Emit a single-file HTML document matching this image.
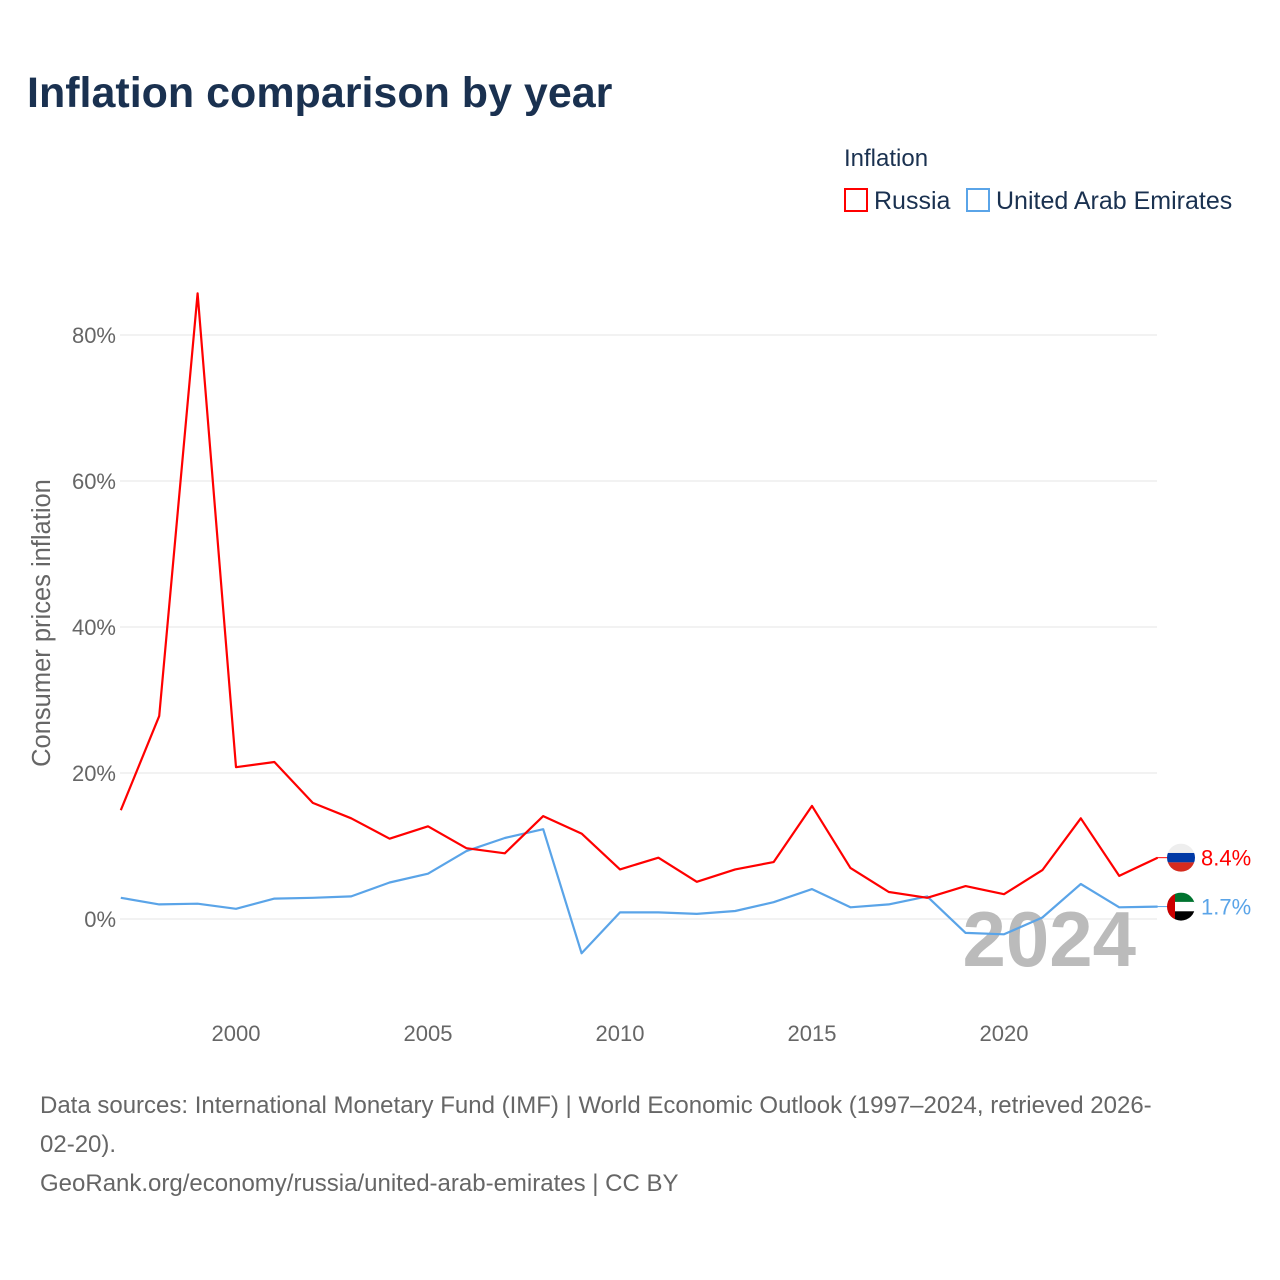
<!DOCTYPE html>
<html><head><meta charset="utf-8">
<style>
body{margin:0;background:#fff;font-family:"Liberation Sans",sans-serif;}
#root{position:relative;width:1280px;height:1280px;overflow:hidden;}
.t{position:absolute;white-space:nowrap;}
</style></head>
<body>
<div id="root">
<div class="t" style="left:27px;top:69px;font-size:43px;font-weight:bold;color:#1a3150;">Inflation comparison by year</div>
<div class="t" style="left:844px;top:145px;font-size:24px;color:#1a3150;">Inflation</div>
<div class="t" style="left:844px;top:187px;font-size:25px;color:#1a3150;"><span style="display:inline-block;border:2px solid #f00;vertical-align:-3px;margin-right:6px;box-sizing:border-box;width:24px;height:24px;"></span>Russia</div>
<div class="t" style="left:966px;top:187px;font-size:25px;color:#1a3150;"><span style="display:inline-block;border:2px solid #5aa4e8;vertical-align:-3px;margin-right:6px;box-sizing:border-box;width:24px;height:24px;"></span>United Arab Emirates</div>
<svg id="chart" width="1280" height="1280" style="position:absolute;left:0;top:0;"></svg>
<div class="t" style="left:40px;top:1086px;font-size:24px;line-height:39px;color:#666;">Data sources: International Monetary Fund (IMF) | World Economic Outlook (1997–2024, retrieved 2026-<br>02-20).<br>GeoRank.org/economy/russia/united-arab-emirates | CC BY</div>
</div>
<script>
const years=[1997,1998,1999,2000,2001,2002,2003,2004,2005,2006,2007,2008,2009,2010,2011,2012,2013,2014,2015,2016,2017,2018,2019,2020,2021,2022,2023,2024];
const russia=[14.9,27.8,85.7,20.8,21.5,15.9,13.8,11.0,12.7,9.7,9.0,14.1,11.7,6.8,8.4,5.1,6.8,7.8,15.5,7.0,3.7,2.9,4.5,3.4,6.7,13.8,5.9,8.4];
const uae=[2.9,2.0,2.1,1.4,2.8,2.9,3.1,5.0,6.2,9.3,11.1,12.3,-4.7,0.9,0.9,0.7,1.1,2.3,4.1,1.6,2.0,3.1,-1.9,-2.1,0.2,4.8,1.6,1.7];
const yTicks=[0,20,40,60,80];
const xTicks=[2000,2005,2010,2015,2020];
const NS="http://www.w3.org/2000/svg";
const svg=document.getElementById('chart');
const X=y=>120.8+(y-1997)*38.4;
const Y=v=>919-v*7.3;
function mk(tag,attrs,txt){const e=document.createElementNS(NS,tag);for(const k in attrs)e.setAttribute(k,attrs[k]);if(txt!==undefined)e.textContent=txt;svg.appendChild(e);return e;}
yTicks.forEach(t=>{
 const g=mk('line',{x1:120,x2:1157,y1:Y(t),y2:Y(t),stroke:'#e6e6e6','stroke-width':1});
 
 
 const l=mk('text',{x:116,y:Y(t)+8,'text-anchor':'end','font-size':22,fill:'#666','font-family':'Liberation Sans, sans-serif'},t+'%');
 
 
});
xTicks.forEach(t=>{
 const l=mk('text',{x:X(t),y:1041,'text-anchor':'middle','font-size':22,fill:'#666','font-family':'Liberation Sans, sans-serif'},t);
 
 
});
const yt=mk('text',{transform:'translate(50,623) rotate(-90)','text-anchor':'middle','font-size':25.5,fill:'#666','font-family':'Liberation Sans, sans-serif'},'Consumer prices inflation');


const yr=mk('text',{x:1136,y:966,'text-anchor':'end','font-size':78,'font-weight':'bold',fill:'#bbb','font-family':'Liberation Sans, sans-serif'},'2024');


function line(vals,color,name){
 const d=vals.map((v,i)=>(i?'L':'M')+X(years[i]).toFixed(1)+' '+Y(v).toFixed(1)).join(' ');
 const p=mk('path',{d:d,fill:'none',stroke:color,'stroke-width':2.2,'stroke-linejoin':'round'});
 
 
}
line(uae,'#5aa4e8','series-uae');
line(russia,'#ff0000','series-russia');
function endLabel(vals,color,name,flag){
 const v=vals[vals.length-1],y=Y(v);
 mk('line',{x1:1157,x2:1168,y1:y,y2:y,stroke:color,'stroke-width':1});
 const cx=1181;
 const defs=mk('clipPath',{id:'c'+name});
 const c=document.createElementNS(NS,'circle');c.setAttribute('cx',cx);c.setAttribute('cy',y);c.setAttribute('r',14);defs.appendChild(c);
 const g=mk('g',{'clip-path':'url(#c'+name+')'});
 
 
 flag.forEach(f=>{const r=document.createElementNS(NS,'rect');for(const k in f)r.setAttribute(k,f[k]);g.appendChild(r);});
 const l=mk('text',{x:1201,y:y+8,'font-size':22,fill:color,'font-family':'Liberation Sans, sans-serif'},v.toFixed(1)+'%');
 
 
}
const ry=Y(russia[russia.length-1]),uy=Y(uae[uae.length-1]);
endLabel(russia,'#ff0000','russia',[
 {x:1167,y:ry-14,width:28,height:10,fill:'#eee'},{x:1167,y:ry-4.7,width:28,height:9.4,fill:'#0039a6'},{x:1167,y:ry+4.7,width:28,height:10,fill:'#d52b1e'}]);
endLabel(uae,'#5aa4e8','uae',[
 {x:1167,y:uy-14,width:28,height:10,fill:'#00732f'},{x:1167,y:uy-4.7,width:28,height:9.4,fill:'#fff'},{x:1167,y:uy+4.7,width:28,height:10,fill:'#000'},{x:1167,y:uy-14,width:8,height:28,fill:'#c00'}]);
</script>
</body></html>
